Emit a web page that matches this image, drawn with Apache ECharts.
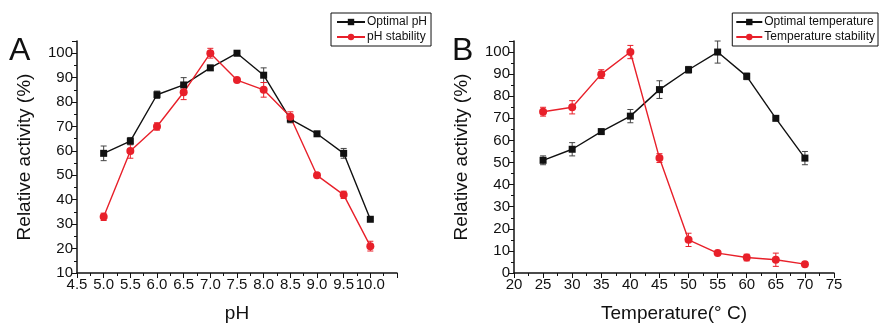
<!DOCTYPE html>
<html>
<head>
<meta charset="utf-8">
<script src="https://cdn.jsdelivr.net/npm/echarts@6/dist/echarts.min.js"></script>
<style>
  html, body { margin: 0; padding: 0; background: #fff; }
  #chart { width: 882px; height: 328px; }
</style>
</head>
<body>
<div id="chart"></div>
<script>
// panel A: pH
var phValues = [5.0, 5.5, 6.0, 6.5, 7.0, 7.5, 8.0, 8.5, 9.0, 9.5, 10.0];
var optimalPh = [59, 64, 83, 87, 94, 100, 91, 73, 67, 59, 32];
var optimalPhErr = [3, 1.5, 1.5, 3, 1, 1, 3, 1.5, 0.5, 2, 0.5];
var phStability = [33, 60, 70, 84, 100, 89, 85, 74, 50, 42, 21];
var phStabilityErr = [1.5, 3, 1.5, 3, 2, 1, 3, 2, 0.5, 1.5, 2];

// panel B: temperature
var temps = [25, 30, 35, 40, 45, 50, 55, 60, 65, 70];
var optimalTemp = [51, 56, 64, 71, 83, 92, 100, 89, 70, 52];
var optimalTempErr = [2, 3, 1, 3, 4, 1.5, 5, 1.5, 0.5, 3];
var tempStability = [73, 75, 90, 100, 52, 15, 9, 7, 6, 4];
var tempStabilityErr = [2, 3, 2, 3, 2, 3, 0.5, 1.5, 3, 0.5];

var BLACK = '#111111';
var RED = '#e8202a';
var FONT = 'Liberation Sans, Arial, sans-serif';

function pairs(xs, ys) {
    return xs.map(function (x, i) { return [x, ys[i]]; });
}
function errData(xs, ys, es) {
    return xs.map(function (x, i) { return [x, ys[i] - es[i], ys[i] + es[i]]; });
}
function errRender(color) {
    return function (params, api) {
        var x = api.value(0);
        var top = api.coord([x, api.value(2)]);
        var bot = api.coord([x, api.value(1)]);
        var w = 3;
        var st = { stroke: color, lineWidth: 1 };
        return {
            type: 'group',
            children: [
                { type: 'line', shape: { x1: top[0], y1: top[1], x2: bot[0], y2: bot[1] }, style: st },
                { type: 'line', shape: { x1: top[0] - w, y1: top[1], x2: top[0] + w, y2: top[1] }, style: st },
                { type: 'line', shape: { x1: bot[0] - w, y1: bot[1], x2: bot[0] + w, y2: bot[1] }, style: st }
            ]
        };
    };
}

function xAxis(idx, min, max, interval, name, fmt) {
    return {
        type: 'value', gridIndex: idx, min: min, max: max, interval: interval,
        name: name, nameLocation: 'middle', nameGap: 31,
        nameTextStyle: { fontFamily: FONT, fontSize: 19, color: '#111' },
        axisLine: { lineStyle: { color: '#111', width: 1.5 } },
        axisTick: { show: true, inside: false, length: 5, lineStyle: { color: '#111', width: 1 } },
        minorTick: { show: true, splitNumber: 2, length: 3, lineStyle: { color: '#111', width: 1 } },
        axisLabel: { fontFamily: FONT, fontSize: 15, color: '#111', margin: 4, formatter: fmt, hideOverlap: false },
        splitLine: { show: false }
    };
}
function yAxis(idx, min) {
    return {
        type: 'value', gridIndex: idx, min: min, max: 105, interval: 10,
        name: 'Relative activity (%)', nameLocation: 'middle', nameGap: 43,
        nameTextStyle: { fontFamily: FONT, fontSize: 19, color: '#111' },
        axisLine: { show: true, lineStyle: { color: '#111', width: 1.5 } },
        axisTick: { show: true, inside: false, length: 5, lineStyle: { color: '#111', width: 1 } },
        minorTick: { show: true, splitNumber: 2, length: 3, lineStyle: { color: '#111', width: 1 } },
        axisLabel: { fontFamily: FONT, fontSize: 15, color: '#111', margin: 4, showMaxLabel: false },
        splitLine: { show: false }
    };
}
function lineSeries(name, idx, data, color, symbol, size) {
    return {
        name: name, type: 'line', xAxisIndex: idx, yAxisIndex: idx, data: data,
        symbol: symbol, symbolSize: size, z: 3,
        lineStyle: { color: color, width: 1.4 },
        itemStyle: { color: color }
    };
}
function errSeries(idx, data, color) {
    return {
        type: 'custom', xAxisIndex: idx, yAxisIndex: idx, data: data, z: 2,
        encode: { x: 0, y: [1, 2] },
        renderItem: errRender(color), silent: true
    };
}
function legend(pos, names, iconW, pad) {
    return Object.assign({
        data: names, orient: 'vertical', top: 13,
        itemWidth: iconW, itemHeight: 8, itemGap: 3, padding: pad,
        borderColor: '#111', borderWidth: 1, borderRadius: 0,
        textStyle: { fontFamily: FONT, fontSize: 12, color: '#111', padding: [0, 0, 0, -3] }
    }, pos);
}

var option = {
    animation: false,
    backgroundColor: '#fff',
    grid: [
        { left: 77, top: 41, width: 320, height: 234 },
        { left: 514, top: 41, width: 320, height: 234 }
    ],
    xAxis: [
        xAxis(0, 4.5, 10.5, 0.5, 'pH', function (v) { return v.toFixed(1); }),
        xAxis(1, 20, 75, 5, 'Temperature(° C)', null)
    ],
    yAxis: [yAxis(0, 10), yAxis(1, 0)],
    legend: [
        legend({ left: 331 }, ['Optimal pH', 'pH stability'], 28, [3, 4, 3, 5]),
        legend({ right: 4 }, ['Optimal temperature', 'Temperature stability'], 26, [3, 3, 3, 3])
    ],
    graphic: [
        { type: 'text', left: 9, top: 35, style: { text: 'A', font: '32px ' + FONT, fill: '#111' } },
        { type: 'text', left: 452, top: 35, style: { text: 'B', font: '32px ' + FONT, fill: '#111' } }
    ],
    series: [
        errSeries(0, errData(phValues, optimalPh, optimalPhErr), '#444'),
        errSeries(0, errData(phValues, phStability, phStabilityErr), RED),
        lineSeries('Optimal pH', 0, pairs(phValues, optimalPh), BLACK, 'rect', 7),
        lineSeries('pH stability', 0, pairs(phValues, phStability), RED, 'circle', 8),
        errSeries(1, errData(temps, optimalTemp, optimalTempErr), '#444'),
        errSeries(1, errData(temps, tempStability, tempStabilityErr), RED),
        lineSeries('Optimal temperature', 1, pairs(temps, optimalTemp), BLACK, 'rect', 7),
        lineSeries('Temperature stability', 1, pairs(temps, tempStability), RED, 'circle', 8)
    ]
};

var myChart = echarts.init(document.getElementById('chart'));
myChart.setOption(option);
</script>
</body>
</html>
